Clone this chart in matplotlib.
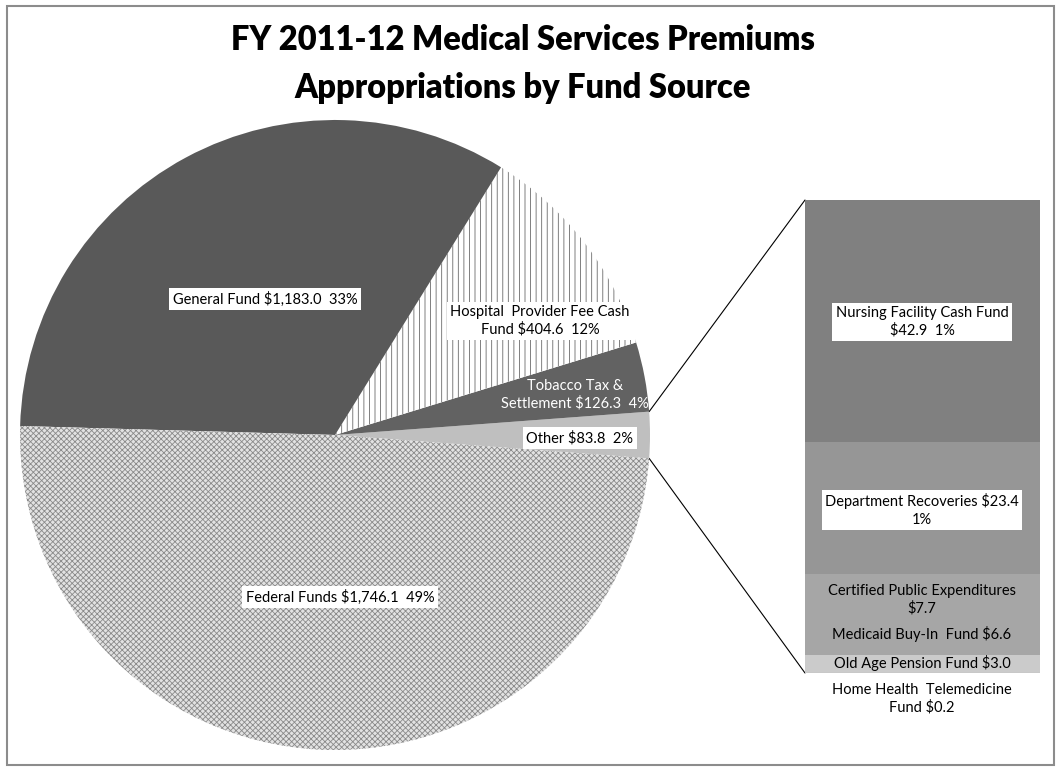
import math
import matplotlib
matplotlib.use("Agg")
from matplotlib import pyplot as plt
from matplotlib.patches import ConnectionPatch, Rectangle

# pie data (order: Other first so it sits at the right, then counter-clockwise)
pie_names = ['Other', 'Tobacco Tax & Settlement', 'Hospital Provider Fee Cash Fund', 'General Fund', 'Federal Funds']
pie_values = [83.8, 126.3, 404.6, 1183.0, 1746.1]
pie_pcts = ['2%', '4%', '12%', '33%', '49%']

# breakdown of "Other" (bottom to top)
bar_names = ['Home Health Telemedicine Fund', 'Old Age Pension Fund', 'Medicaid Buy-In Fund',
             'Certified Public Expenditures', 'Department Recoveries', 'Nursing Facility Cash Fund']
bar_values = [0.2, 3.0, 6.6, 7.7, 23.4, 42.9]
bar_pcts = ['', '', '', '', '1%', '1%']

plt.rcParams['font.family'] = ['Lato', 'DejaVu Sans']
plt.rcParams['hatch.linewidth'] = 0.6

fig = plt.figure(figsize=(10.61, 7.71), dpi=100)
ax = fig.add_axes([0, 0, 1, 1])

total = sum(pie_values)
start = -pie_values[0] / total * 360 / 2
pie_colors = ['#bfbfbf', '#626262', 'white', '#595959', '#e2e2e2']
wedges, _ = ax.pie(pie_values, center=(335, 336), radius=315, startangle=start,
                   colors=pie_colors, wedgeprops=dict(linewidth=0))
wedges[2].set_hatch('|||')
wedges[2].set_edgecolor('#6a6a6a')
wedges[4].set_hatch('xxxxxx')
wedges[4].set_edgecolor('#8a8a8a')

ax.set_xlim(0, 1061)
ax.set_ylim(0, 771)
ax.set_aspect('equal')
ax.axis('off')
ax.set_zorder(3)

# frame around chart
ax.add_patch(Rectangle((7, 6), 1047, 759, fill=False, edgecolor='#8c8c8c', lw=1.5))

ax.text(523, 731, 'FY 2011-12 Medical Services Premiums', ha='center', va='center',
        fontsize=23.5, fontweight='heavy')
ax.text(523, 683, 'Appropriations by Fund Source', ha='center', va='center',
        fontsize=23.5, fontweight='heavy')

box = dict(facecolor='white', edgecolor='none', pad=2.5)
fs = 10.5
ax.text(265, 472, f'{pie_names[3]} ${pie_values[3]:,.1f}  {pie_pcts[3]}', ha='center', va='center',
        fontsize=fs, bbox=box)
ax.text(540, 450, f'Hospital  Provider Fee Cash\nFund ${pie_values[2]:,.1f}  {pie_pcts[2]}', ha='center',
        va='center', fontsize=fs, bbox=box, linespacing=1.3)
ax.text(575, 376, f'Tobacco Tax &\nSettlement ${pie_values[1]:,.1f}  {pie_pcts[1]}', ha='center',
        va='center', fontsize=fs, color='white', linespacing=1.3)
ax.text(580, 333, f'{pie_names[0]} ${pie_values[0]:,.1f}  {pie_pcts[0]}', ha='center', va='center',
        fontsize=fs, bbox=box)
ax.text(340, 174, f'{pie_names[4]} ${pie_values[4]:,.1f}  {pie_pcts[4]}', ha='center', va='center',
        fontsize=fs, bbox=box)

# bar of "Other"
ax2 = fig.add_axes([805 / 1061, 98 / 771, 235 / 1061, 473 / 771])
ax2.set_zorder(1)
bar_colors = ['#c8c8c8', '#cbcbcb', '#a6a6a6', '#a6a6a6', '#969696', '#808080']
bottom = 0
for v, c in zip(bar_values, bar_colors):
    ax2.bar(0, v, bottom=bottom, width=1, color=c, linewidth=0)
    bottom += v
ax2.set_xlim(-0.5, 0.5)
ax2.set_ylim(0, sum(bar_values))
ax2.axis('off')

# bar labels
ax.text(922, 449, f'{bar_names[5]}\n${bar_values[5]:.1f}  {bar_pcts[5]}', ha='center', va='center',
        fontsize=fs, bbox=box, linespacing=1.3)
ax.text(922, 261, f'{bar_names[4]} ${bar_values[4]:.1f}\n{bar_pcts[4]}', ha='center', va='center',
        fontsize=fs, bbox=box, linespacing=1.3)
ax.text(922, 171, f'{bar_names[3]}\n${bar_values[3]:.1f}', ha='center', va='center', fontsize=fs,
        linespacing=1.3)
ax.text(922, 137, f'Medicaid Buy-In  Fund ${bar_values[2]:.1f}', ha='center', va='center', fontsize=fs)
ax.text(922, 108, f'{bar_names[1]} ${bar_values[1]:.1f}', ha='center', va='center', fontsize=fs)
ax.text(922, 72, f'Home Health  Telemedicine\nFund ${bar_values[0]:.1f}', ha='center', va='center',
        fontsize=fs, linespacing=1.3)

# connector lines
theta = math.radians(-start)
for sgn, yb in [(1, sum(bar_values)), (-1, 0)]:
    px = 335 + 315 * math.cos(theta)
    py = 336 + sgn * 315 * math.sin(theta)
    con = ConnectionPatch(xyA=(-0.5, yb), coordsA=ax2.transData, xyB=(px, py), coordsB=ax.transData,
                          color='black', lw=0.8)
    fig.add_artist(con)

fig.savefig('out.png', dpi=100)
